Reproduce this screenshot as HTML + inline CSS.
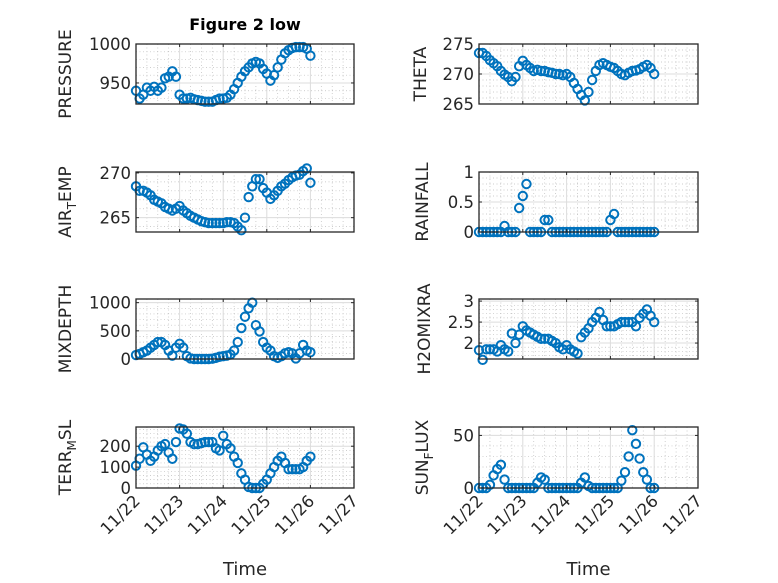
<!DOCTYPE html>
<html><head><meta charset="utf-8"><style>
html,body{margin:0;padding:0;background:#fff;}
svg{display:block;font-family:"DejaVu Sans","Liberation Sans",sans-serif;}
</style></head><body>
<svg id="fig" width="778" height="583" viewBox="0 0 778 583" xmlns="http://www.w3.org/2000/svg">
<rect width="778" height="583" fill="#fff"/>
<text x="245" y="30" text-anchor="middle" font-size="16" font-weight="bold" fill="#000">Figure 2 low</text>
</svg>
<script>
// time in hours from 11/22 00:00
const hours = [0,2,4,6,8,10,12,14,16,18,20,22,24,26,28,30,32,34,36,38,40,42,44,46,48,50,52,54,56,58,60,62,64,66,68,70,72,74,76,78,80,82,84,86,88,90,92,94,96];
const xTickLabels = ["11/22","11/23","11/24","11/25","11/26","11/27"];
const pressure = [940,930,935,944,940,945,940,944,956,958,965,958,935,930,930,931,929,928,927,926,926,926,928,930,930,931,935,942,950,958,965,970,975,977,975,968,962,953,960,970,980,988,992,995,996,996,996,994,985];
const theta = [273.5,273.5,273,272.3,271.8,271.3,270.5,269.9,269.5,268.8,269.5,271.3,272.2,271.5,271,270.5,270.7,270.5,270.5,270.3,270.2,270,270,269.8,270,269.5,268.5,267.5,266.5,265.6,267,269,270.5,271.5,271.8,271.5,271.2,271,270.5,270,269.8,270.2,270.5,270.6,270.8,271.2,271.5,271,270];
const airTemp = [268.5,268,268,267.8,267.5,267,266.8,266.6,266.2,266,265.8,266,266.3,265.8,265.5,265.2,265,264.8,264.6,264.5,264.4,264.4,264.4,264.4,264.4,264.5,264.5,264.4,264,263.6,265,267.3,268.5,269.3,269.3,268.3,267.8,267.1,267.5,268,268.5,268.8,269.2,269.5,269.7,269.8,270.2,270.5,268.9];
const rainfall = [0,0,0,0,0,0,0,0.1,0,0,0,0.4,0.6,0.8,0,0,0,0,0.2,0.2,0,0,0,0,0,0,0,0,0,0,0,0,0,0,0,0,0.2,0.3,0,0,0,0,0,0,0,0,0,0,0];
const mixDepth = [70,90,120,150,200,250,300,300,250,150,60,200,270,200,50,10,0,0,0,0,0,5,20,40,50,60,80,150,300,550,750,900,1000,600,490,300,200,150,50,20,50,100,120,100,10,100,250,150,120];
const h2oMix = [1.83,1.6,1.85,1.85,1.85,1.8,1.95,1.85,1.8,2.23,2.0,2.2,2.4,2.3,2.25,2.2,2.15,2.1,2.1,2.1,2.05,2.0,1.9,1.85,1.95,1.85,1.8,1.75,2.14,2.25,2.35,2.5,2.6,2.74,2.55,2.4,2.4,2.4,2.45,2.5,2.5,2.5,2.5,2.4,2.6,2.7,2.8,2.65,2.5];
const terrMsl = [107,140,195,160,130,150,180,200,210,170,140,220,285,280,260,220,210,210,215,220,220,220,190,180,250,210,190,150,120,70,40,5,0,0,0,20,40,70,100,130,150,120,90,90,90,90,100,130,150];
const sunFlux = [0,0,0,3,12,18,22,8,0,0,0,0,0,0,0,0,5,10,8,0,0,0,0,0,0,0,0,0,5,10,2,0,0,0,0,0,0,0,0,7,15,30,55,42,28,15,8,0,0];
const pressureTicks = [950,1000];
const thetaTicks = [265,270,275];
const airTicks = [265,270];
const rainTicks = [0,0.5,1];
const mixTicks = [0,500,1000];
const h2oTicks = [2,2.5,3];
const terrTicks = [0,100,200];
const sunTicks = [0,50];

const svg = document.getElementById('fig');
const NS = 'http://www.w3.org/2000/svg';
function mk(tag, attrs, parent){
  const e = document.createElementNS(NS, tag);
  for (const k in attrs) e.setAttribute(k, attrs[k]);
  (parent||svg).appendChild(e);
  return e;
}
function fmt(v){ return String(v); }

function panel(o){
  const g = mk('g', {});
  
  
  const x0=o.x, x1=o.x+o.w, y0=o.y, y1=o.y+o.h;
  const xs = t => x0 + t/120*o.w;
  const ys = v => y1 - (v-o.ylim[0])/(o.ylim[1]-o.ylim[0])*o.h;
  for (let t=6; t<120; t+=6){ if (t%24===0) continue;
    mk('line',{x1:xs(t),x2:xs(t),y1:y0,y2:y1,stroke:'#bdbdbd','stroke-width':0.7,'stroke-dasharray':'1,2.5'},g); }
  const ms = o.minor;
  for (let v=Math.ceil(o.ylim[0]/ms)*ms; v<o.ylim[1]; v+=ms){
    const vv = Math.round(v*1000)/1000;
    if (o.ticks.some(k=>Math.abs(k-vv)<1e-6)) continue;
    mk('line',{x1:x0,x2:x1,y1:ys(vv),y2:ys(vv),stroke:'#bdbdbd','stroke-width':0.7,'stroke-dasharray':'1,2.5'},g); }
  for (let d=1; d<5; d++) mk('line',{x1:xs(d*24),x2:xs(d*24),y1:y0,y2:y1,stroke:'#dcdcdc','stroke-width':1},g);
  o.ticks.forEach(v=>{ mk('line',{x1:x0,x2:x1,y1:ys(v),y2:ys(v),stroke:'#dcdcdc','stroke-width':1},g); });
  const dg = mk('g',{},g);
  
  
  o.data.forEach((v,i)=>{
    const c = mk('circle',{cx:xs(hours[i]),cy:ys(v),r:4.2,fill:'none',stroke:'#0072BD','stroke-width':2},dg);
    
    
  });
  mk('rect',{x:x0,y:y0,width:o.w,height:o.h,fill:'none',stroke:'#262626','stroke-width':1.3},g);
  for (let d=0; d<=5; d++){ const x=xs(d*24);
    mk('line',{x1:x,x2:x,y1:y1,y2:y1-3,stroke:'#262626','stroke-width':1},g);
    mk('line',{x1:x,x2:x,y1:y0,y2:y0+3,stroke:'#262626','stroke-width':1},g); }
  o.ticks.forEach(v=>{
    mk('line',{x1:x0,x2:x0+3,y1:ys(v),y2:ys(v),stroke:'#262626','stroke-width':1},g);
    mk('line',{x1:x1,x2:x1-3,y1:ys(v),y2:ys(v),stroke:'#262626','stroke-width':1},g);
    const t = mk('text',{x:x0-5,y:ys(v)+6,'text-anchor':'end','font-size':16.5,fill:'#262626'},g);
    
    
    t.textContent = fmt(v);
  });
  const lx = o.lx, ly = (y0+y1)/2;
  const yl = mk('text',{x:lx,y:ly,'text-anchor':'middle','font-size':17,fill:'#262626',transform:`rotate(-90 ${lx} ${ly})`},g);
  
  
  if (o.sub){
    const a = mk('tspan',{},yl); a.textContent = o.sub[0];
    const b = mk('tspan',{dy:5,'font-size':12},yl); b.textContent = o.sub[1];
    const c = mk('tspan',{dy:-5},yl); c.textContent = o.sub[2];
  } else yl.textContent = o.label;
  if (o.bottom){
    xTickLabels.forEach((s,d)=>{
      const x = xs(d*24)+5, y = y1+14;
      const t = mk('text',{x:x,y:y,'text-anchor':'end','font-size':16.5,fill:'#262626',transform:`rotate(-45 ${x} ${y})`},g);
      
      
      t.textContent = s;
    });
    const xt = mk('text',{x:(x0+x1)/2,y:575,'text-anchor':'middle','font-size':18,fill:'#262626'},g);
    
    
    xt.textContent = 'Time';
  }
}
const L = {x:136, w:218}, R = {x:479, w:219};
const rows = [{y:44,h:60},{y:172,h:60},{y:299,h:60},{y:427,h:61}];
panel({name:'pressure',x:L.x,w:L.w,y:rows[0].y,h:rows[0].h,ylim:[923,1000],ticks:pressureTicks,minor:10,data:pressure,label:'PRESSURE',lx:71});
panel({name:'theta',x:R.x,w:R.w,y:rows[0].y,h:rows[0].h,ylim:[265,275],ticks:thetaTicks,minor:1,data:theta,label:'THETA',lx:426});
panel({name:'air-temp',x:L.x,w:L.w,y:rows[1].y,h:rows[1].h,ylim:[263.4,270.1],ticks:airTicks,minor:1,data:airTemp,sub:['AIR','T','EMP'],lx:71});
panel({name:'rainfall',x:R.x,w:R.w,y:rows[1].y,h:rows[1].h,ylim:[0,1],ticks:rainTicks,minor:0.1,data:rainfall,label:'RAINFALL',lx:428});
panel({name:'mixdepth',x:L.x,w:L.w,y:rows[2].y,h:rows[2].h,ylim:[0,1065],ticks:mixTicks,minor:100,data:mixDepth,label:'MIXDEPTH',lx:71});
panel({name:'h2omixra',x:R.x,w:R.w,y:rows[2].y,h:rows[2].h,ylim:[1.62,3.05],ticks:h2oTicks,minor:0.1,data:h2oMix,label:'H2OMIXRA',lx:430});
panel({name:'terr-msl',x:L.x,w:L.w,y:rows[3].y,h:rows[3].h,ylim:[0,292],ticks:terrTicks,minor:20,data:terrMsl,sub:['TERR','M','SL'],lx:71,bottom:true});
panel({name:'sun-flux',x:R.x,w:R.w,y:rows[3].y,h:rows[3].h,ylim:[0,58],ticks:sunTicks,minor:10,data:sunFlux,sub:['SUN','F','LUX'],lx:428,bottom:true});
</script>
</body></html>
